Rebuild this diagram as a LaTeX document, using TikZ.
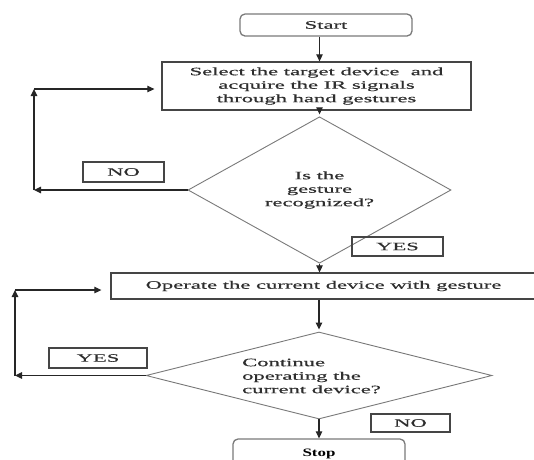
\documentclass[tikz,border=0pt]{standalone}
\usepackage{fontspec}
\setmainfont[FakeStretch=2.0,FakeBold=0.5]{Liberation Serif}
\newfontfamily\stopfont[FakeStretch=1.5]{Liberation Serif}
\usetikzlibrary{shapes.geometric,arrows.meta}
\definecolor{txtc}{HTML}{2E2E2E}
\definecolor{boxc}{HTML}{454545}
\definecolor{dmc}{HTML}{7A7A7A}
\tikzset{
  txt/.style={text=txtc, font=\fontsize{11.3}{13.5}\selectfont, inner sep=0pt},
  procbox/.style={draw=boxc, line width=1.3pt, rectangle, txt, align=center},
  termbox/.style={draw=dmc, line width=1.3pt, rectangle, rounded corners=5pt, txt},
  decbox/.style={draw=dmc, line width=0.9pt, diamond, txt, align=center},
  lblbox/.style={draw=boxc, line width=1.3pt, rectangle, txt},
  arr/.style={draw=black!85, line width=1.2pt, -{Triangle[length=7pt,width=6.5pt]}}
}
\begin{document}
\begin{tikzpicture}[x=1pt,y=-1pt]
\useasboundingbox (0,0) rectangle (534,459);
\clip (0,0) rectangle (534,459);
\fill[white] (0,0) rectangle (534,459);
% nodes
\node[termbox, minimum width=172pt, minimum height=22pt] (start) at (326,25) {Start};
\node[procbox, minimum width=309pt, minimum height=48pt] (select) at (316.5,86)
  {Select the target device\ \ and\\acquire the IR signals\\through hand gestures};
\node[decbox, minimum width=263pt, minimum height=102pt, inner sep=0pt] (d1) at (319.5,190)
  {Is the\\gesture\\recognized?};
\node[lblbox, minimum width=81pt, minimum height=20pt] (no1) at (123.5,172) {NO};
\node[lblbox, minimum width=91pt, minimum height=19pt] (yes1) at (397.5,246.5) {YES};
\node[procbox, minimum width=425pt, minimum height=26pt] (operate) at (323.5,286)
  {Operate the current device with gesture};
\node[decbox, minimum width=346pt, minimum height=87pt, inner sep=0pt] (d2) at (319,375.5) {};
\node[txt, align=left] (d2t) at (311.5,376) {Continue\\operating the\\current device?};
\node[lblbox, minimum width=98pt, minimum height=20pt] (yes2) at (98,358) {YES};
\node[lblbox, minimum width=79pt, minimum height=18pt] (no2) at (410.5,423) {NO};
\node[termbox, minimum width=172pt, minimum height=34pt, text=black] (stop) at (319,456)
  {\raisebox{6pt}{\stopfont\bfseries Stop}};
% loop corners
\coordinate (l1b) at (34,190);
\coordinate (l1t) at (34,89);
\coordinate (l2b) at (15,375.5);
\coordinate (l2t) at (15,290);
% connectors
\draw[arr] (start.south -| d1.north) -- (select.north -| d1.north);
\draw[arr, shorten >=2pt] (select.south -| d1.north) -- (d1.north);
\draw[arr] (d1.south) -- (d1.south |- operate.north);
\draw[arr, shorten >=2pt] (operate.south -| d2.north) -- (d2.north);
\draw[arr] (d2.south) -- (d2.south |- stop.north);
\draw[arr] (d1.west) -- (l1b);
\draw[arr] (l1b) -- (l1t);
\draw[arr, shorten >=7pt] (l1t) -- (select.west |- l1t);
\draw[arr] (d2.west) -- (l2b);
\draw[arr] (l2b) -- (l2t);
\draw[arr, shorten >=9pt] (l2t) -- (operate.west |- l2t);
\end{tikzpicture}
\end{document}
